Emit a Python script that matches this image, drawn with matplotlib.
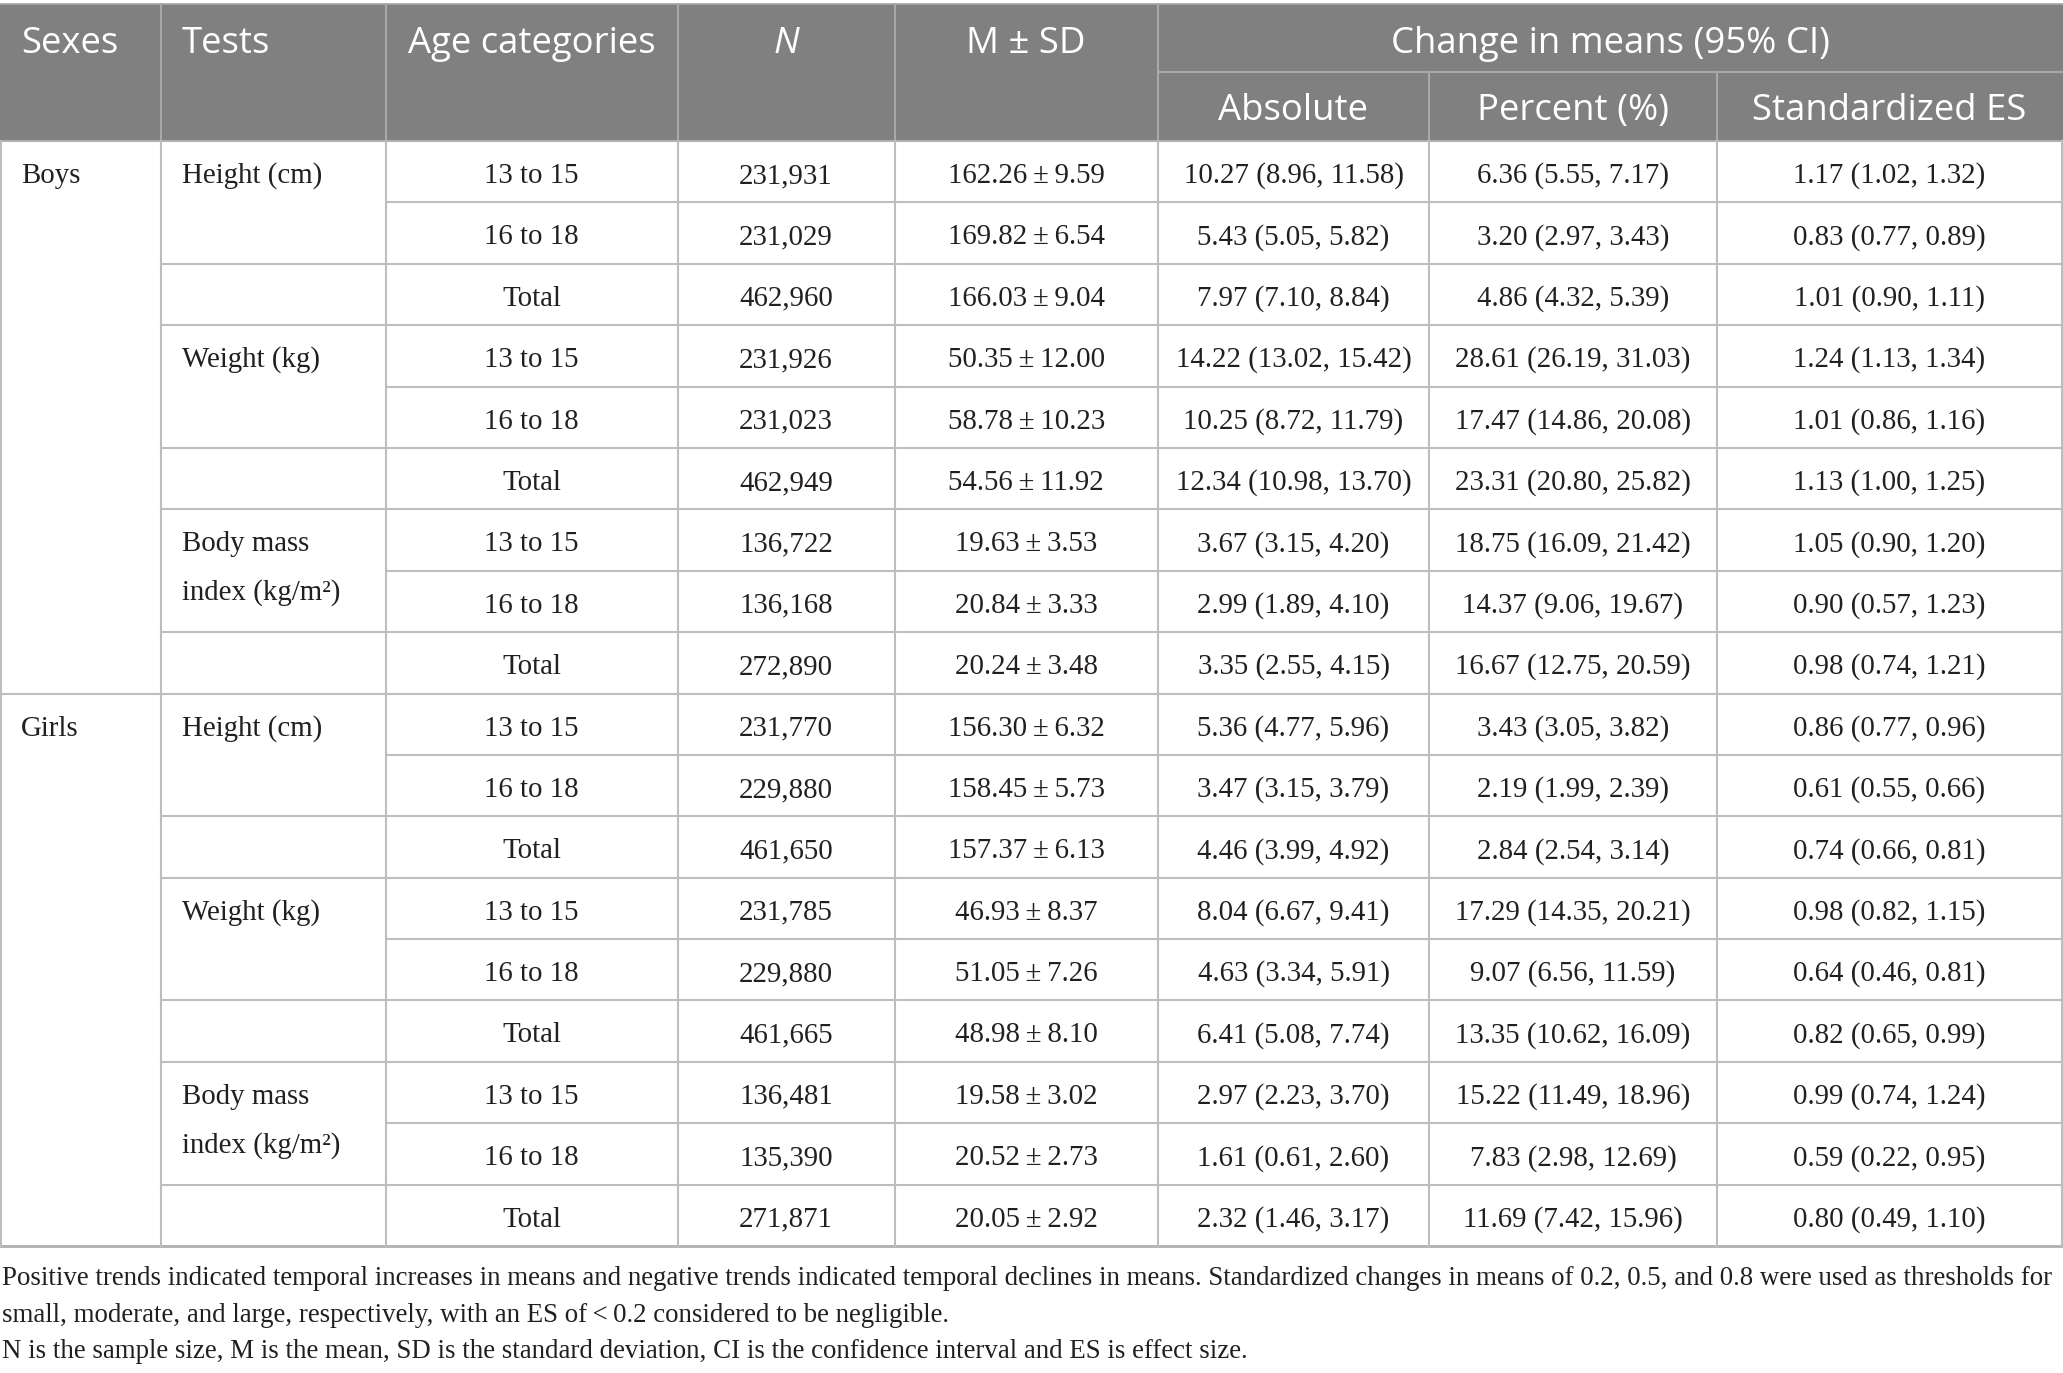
import matplotlib
matplotlib.use("Agg")
import matplotlib.pyplot as plt
from matplotlib.patches import Rectangle

# ---- data ----
sexes = ["Boys", "Girls"]
tests = ["Height (cm)", "Weight (kg)", "Body mass\nindex (kg/m\u00b2)"]
ages = ["13 to 15", "16 to 18", "Total"]

n_vals = [231931, 231029, 462960, 231926, 231023, 462949, 136722, 136168, 272890,
          231770, 229880, 461650, 231785, 229880, 461665, 136481, 135390, 271871]
means = [162.26, 169.82, 166.03, 50.35, 58.78, 54.56, 19.63, 20.84, 20.24,
         156.30, 158.45, 157.37, 46.93, 51.05, 48.98, 19.58, 20.52, 20.05]
sds = [9.59, 6.54, 9.04, 12.00, 10.23, 11.92, 3.53, 3.33, 3.48,
       6.32, 5.73, 6.13, 8.37, 7.26, 8.10, 3.02, 2.73, 2.92]
absolute = [(10.27, 8.96, 11.58), (5.43, 5.05, 5.82), (7.97, 7.10, 8.84),
            (14.22, 13.02, 15.42), (10.25, 8.72, 11.79), (12.34, 10.98, 13.70),
            (3.67, 3.15, 4.20), (2.99, 1.89, 4.10), (3.35, 2.55, 4.15),
            (5.36, 4.77, 5.96), (3.47, 3.15, 3.79), (4.46, 3.99, 4.92),
            (8.04, 6.67, 9.41), (4.63, 3.34, 5.91), (6.41, 5.08, 7.74),
            (2.97, 2.23, 3.70), (1.61, 0.61, 2.60), (2.32, 1.46, 3.17)]
percent = [(6.36, 5.55, 7.17), (3.20, 2.97, 3.43), (4.86, 4.32, 5.39),
           (28.61, 26.19, 31.03), (17.47, 14.86, 20.08), (23.31, 20.80, 25.82),
           (18.75, 16.09, 21.42), (14.37, 9.06, 19.67), (16.67, 12.75, 20.59),
           (3.43, 3.05, 3.82), (2.19, 1.99, 2.39), (2.84, 2.54, 3.14),
           (17.29, 14.35, 20.21), (9.07, 6.56, 11.59), (13.35, 10.62, 16.09),
           (15.22, 11.49, 18.96), (7.83, 2.98, 12.69), (11.69, 7.42, 15.96)]
std_es = [(1.17, 1.02, 1.32), (0.83, 0.77, 0.89), (1.01, 0.90, 1.11),
          (1.24, 1.13, 1.34), (1.01, 0.86, 1.16), (1.13, 1.00, 1.25),
          (1.05, 0.90, 1.20), (0.90, 0.57, 1.23), (0.98, 0.74, 1.21),
          (0.86, 0.77, 0.96), (0.61, 0.55, 0.66), (0.74, 0.66, 0.81),
          (0.98, 0.82, 1.15), (0.64, 0.46, 0.81), (0.82, 0.65, 0.99),
          (0.99, 0.74, 1.24), (0.59, 0.22, 0.95), (0.80, 0.49, 1.10)]

headers = ["Sexes", "Tests", "Age categories", "N", "M \u00b1 SD"]
group_header = "Change in means (95% CI)"
sub_headers = ["Absolute", "Percent (%)", "Standardized ES"]

notes = [
    "Positive trends indicated temporal increases in means and negative trends indicated temporal declines in means. "
    "Standardized changes in means of 0.2, 0.5, and 0.8 were used as thresholds for",
    "small, moderate, and large, respectively, with an ES of\u2009<\u20090.2 considered to be negligible.",
    "N is the sample size, M is the mean, SD is the standard deviation, CI is the confidence interval and ES is effect size.",
]

# ---- layout (pixels) ----
W, H = 2063, 1373
col_x = [0, 160.5, 385.5, 677.5, 894.5, 1158, 1429, 1717, 2062]
head_top, head_mid, head_bot = 4, 72, 141
row_h = (1246 - head_bot) / 18
pad = 21

fill = "#808080"
hline = "#a8a8a8"
grid = "#bdbdbd"
ink = "#231f20"
serif = ["Liberation Serif", "DejaVu Serif"]
sans = ["Open Sans", "DejaVu Sans"]

fig = plt.figure(figsize=(W / 100, H / 100), dpi=100)
ax = fig.add_axes([0, 0, 1, 1])
ax.set_xlim(0, W)
ax.set_ylim(H, 0)
ax.axis("off")

# header block
ax.add_patch(Rectangle((0, head_top), W, head_bot - head_top, facecolor=fill, edgecolor="none"))
ax.plot([0, W], [head_top, head_top], color="#a6a6a6", lw=1.2)
for i, x in enumerate(col_x[1:-1], start=1):
    y0 = head_mid if i in (6, 7) else head_top
    ax.plot([x, x], [y0, head_bot], color=hline, lw=1.5)
ax.plot([col_x[5], col_x[8]], [head_mid, head_mid], color=hline, lw=1.5)

hs = 26.3
hy1, hy2 = 53, 120
def htext(x, y, s, ha="center", **kw):
    ax.text(x, y, s, color="white", fontsize=hs, family=sans, ha=ha, va="baseline", **kw)

htext(pad, hy1, headers[0], ha="left")
htext(col_x[1] + pad, hy1, headers[1], ha="left")
htext((col_x[2] + col_x[3]) / 2, hy1, headers[2])
htext((col_x[3] + col_x[4]) / 2, hy1, headers[3], style="italic")
htext((col_x[4] + col_x[5]) / 2, hy1, headers[4])
htext((col_x[5] + col_x[8]) / 2, hy1, group_header)
for j, s in enumerate(sub_headers):
    htext((col_x[5 + j] + col_x[6 + j]) / 2, hy2, s)

# body grid
def yrow(r):
    return head_bot + r * row_h

for r in range(1, 18):
    if r == 9:
        x0 = 0
    elif r % 3 == 1:
        x0 = col_x[2]
    else:
        x0 = col_x[1]
    ax.plot([x0, W], [yrow(r), yrow(r)], color=grid, lw=1.5)
ax.plot([0, W], [yrow(18), yrow(18)], color="#b0b0b0", lw=2)
ax.plot([0, W], [head_bot, head_bot], color="#b0b0b0", lw=1.5)
for x in col_x:
    xx = min(max(x, 1), W - 1.5)
    ax.plot([xx, xx], [head_bot, yrow(18)], color=grid, lw=1.5)

bs = 20.8
base = 42
def btext(x, y, s, ha="center"):
    ax.text(x, y, s, fontsize=bs, family=serif, color=ink, ha=ha, va="baseline")

def fmt_ci(t):
    return f"{t[0]:.2f} ({t[1]:.2f}, {t[2]:.2f})"

for s, sex in enumerate(sexes):
    btext(pad, yrow(9 * s) + base, sex, ha="left")
    for t, test in enumerate(tests):
        r0 = 9 * s + 3 * t
        lines = test.split("\n")
        btext(col_x[1] + pad, yrow(r0) + base, lines[0], ha="left")
        if len(lines) > 1:
            btext(col_x[1] + pad, yrow(r0 + 1) + base - 13, lines[1], ha="left")
        for a_i, age in enumerate(ages):
            r = r0 + a_i
            cells = [age, f"{n_vals[r]:,}", f"{means[r]:.2f}\u2009\u00b1\u2009{sds[r]:.2f}",
                     fmt_ci(absolute[r]), fmt_ci(percent[r]), fmt_ci(std_es[r])]
            for c, txt in enumerate(cells):
                btext((col_x[2 + c] + col_x[3 + c]) / 2, yrow(r) + base, txt)

# notes
ns = 19.4
for k, line in enumerate(notes):
    ax.text(2, 1285 + k * 36.5, line, fontsize=ns, family=serif, color=ink, ha="left", va="baseline")

fig.savefig("out.png", dpi=100, facecolor="white")
